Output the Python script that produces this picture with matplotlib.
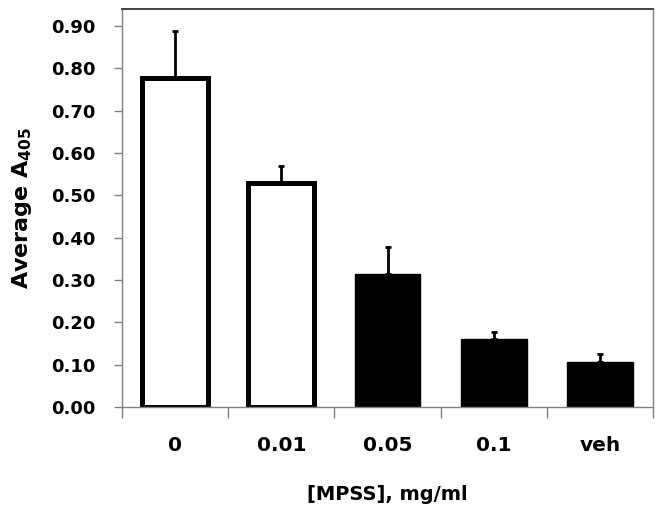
import matplotlib.pyplot as plt
import numpy as np

# data
categories = ['0', '0.01', '0.05', '0.1', 'veh']
means = [0.778, 0.530, 0.313, 0.160, 0.106]
err_up = [0.111, 0.040, 0.065, 0.017, 0.018]
filled = [False, False, True, True, True]
yticks = [0.0, 0.1, 0.2, 0.3, 0.4, 0.5, 0.6, 0.7, 0.8, 0.9]

plt.rcParams['font.family'] = 'DejaVu Sans'
plt.rcParams['font.weight'] = 'bold'

fig = plt.figure(figsize=(6.64, 5.14), dpi=100)
ax = fig.add_axes([122 / 664, 107 / 514, 531 / 664, 398 / 514])

x = np.arange(len(categories))
faces = ['black' if f else 'white' for f in filled]
widths = [3.6 if not f else 1.0 for f in filled]
ax.bar(x, means, width=0.62, color=faces, edgecolor='black', linewidth=widths, zorder=2)
ax.errorbar(x, means, yerr=[np.zeros(len(means)), err_up], fmt='none',
            ecolor='black', elinewidth=2, capsize=2, capthick=2, zorder=1)

ax.set_xlim(-0.5, len(categories) - 0.5)
ax.set_ylim(0, 0.94)
ax.set_yticks(yticks)
ax.set_yticklabels(['%.2f' % v for v in yticks], fontsize=13, fontweight='bold')
ax.set_xticks(x)
ax.set_xticklabels(categories, fontsize=14.5, fontweight='bold')
ax.set_xticks(np.arange(len(categories) + 1) - 0.5, minor=True)
ax.tick_params(axis='x', which='major', length=0, pad=21)
ax.tick_params(axis='x', which='minor', length=8, color='#808080', width=1)
ax.tick_params(axis='y', length=6, color='#808080', width=1, pad=13)

for s in ['left', 'bottom', 'right']:
    ax.spines[s].set_color('#808080')
    ax.spines[s].set_linewidth(1)
ax.spines['top'].set_color('#222222')
ax.spines['top'].set_linewidth(1.2)

ax.set_xlabel('[MPSS], mg/ml', fontsize=14, fontweight='bold')
ax.xaxis.set_label_coords(0.5, -0.195)
ax.set_ylabel(r'Average A$_{\mathbf{405}}$', fontsize=16, fontweight='bold', labelpad=12)

fig.savefig('out.png', dpi=100)
